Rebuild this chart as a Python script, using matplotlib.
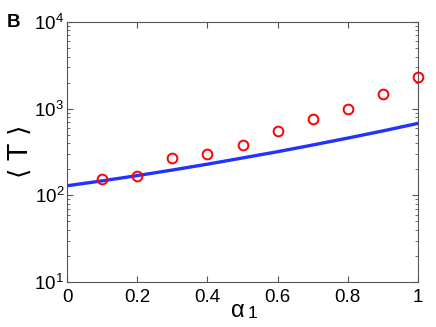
import numpy as np
import matplotlib.pyplot as plt

# model curve (blue line)
alpha_line = [0, 0.1, 0.2, 0.3, 0.4, 0.5, 0.6, 0.7, 0.8, 0.9, 1.0]
T_line = [129, 147, 169, 196, 229, 270, 319, 381, 458, 554, 677]

# simulation points (red circles)
alpha_pts = [0.1, 0.2, 0.3, 0.4, 0.5, 0.6, 0.7, 0.8, 0.9, 1.0]
T_pts = [155, 166, 270, 302, 378, 556, 760, 981, 1463, 2292]

plt.rcParams['font.family'] = ['Liberation Sans', 'DejaVu Sans']
plt.rcParams['mathtext.fontset'] = 'custom'
plt.rcParams['mathtext.rm'] = 'Liberation Sans'
plt.rcParams['mathtext.it'] = 'Liberation Sans'

fig = plt.figure(figsize=(4.36, 3.27), dpi=100)
ax = fig.add_axes([0.1537, 0.1376, 0.805, 0.795])

ax.plot(alpha_line, T_line, color='#2233ff', lw=2.4, zorder=2)
ax.plot(alpha_pts, T_pts, 'o', mfc='none', mec='red', mew=1.4, ms=7,
        clip_on=False, zorder=3)

ax.set_yscale('log')
ax.set_xlim(0, 1)
ax.set_ylim(10, 1e4)
ax.set_xticks([0, 0.2, 0.4, 0.6, 0.8, 1])
ax.set_xticklabels(['0', '0.2', '0.4', '0.6', '0.8', '1'])
ax.tick_params(which='both', direction='in', top=True, right=True,
               labelsize=13.5, colors='#555555', labelcolor='black')
ax.tick_params(which='major', length=4)
ax.tick_params(which='minor', length=2.5)
ax.tick_params(axis='x', pad=5)
ax.tick_params(axis='y', pad=2)
for s in ax.spines.values():
    s.set_color('#555555')
    s.set_linewidth(0.8)

# axis labels
fig.text(238 / 436, 1 - 316.7 / 327, 'α', fontsize=17, ha='center', va='baseline')
fig.text(252 / 436, 1 - 318 / 327, '1', fontsize=12.5, ha='center', va='baseline')
fig.text(21 / 436, 1 - 151 / 327, '⟨ T ⟩', fontsize=19, family=['DejaVu Sans'],
         rotation=90, ha='center', va='center')

fig.text(0.016, 0.93, 'B', fontsize=13.5, fontweight='bold', va='center')

fig.savefig('out.png', dpi=100)
